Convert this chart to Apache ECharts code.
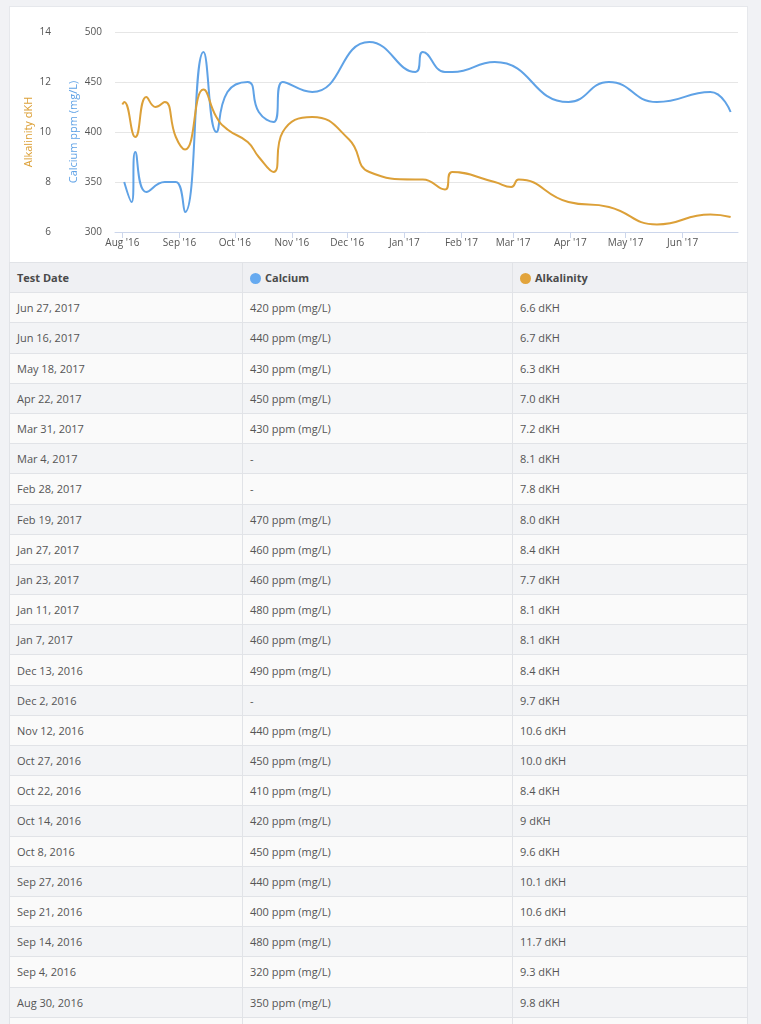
<!DOCTYPE html>
<html>
<head>
<meta charset="utf-8">
<script src="https://cdn.jsdelivr.net/npm/echarts@6/dist/echarts.min.js"></script>
<style>
    body { margin: 0; background: #f1f2f5; font-family: "Open Sans", sans-serif; }
    #card { position: absolute; left: 9px; top: 6px; width: 737px; height: 255px; background: #fff; border: 1px solid #e6e8ec; border-bottom: none; }
    #chart { position: absolute; left: 0; top: 0; width: 761px; height: 262px; }
    #log { position: absolute; left: 9px; top: 262px; width: 739px; border-collapse: collapse; font-size: 11px; color: #555; }
    #log th, #log td { border: 1px solid #e1e3e7; text-align: left; padding: 0 7px; height: 29.2px; }
    #log th { background: #eff0f3; color: #4a4a4a; font-weight: 700; }
    #log tbody tr:nth-child(odd) td { background: #fafafa; }
    #log tbody tr:nth-child(even) td { background: #f3f4f6; }
    .dot { display: inline-block; width: 11px; height: 11px; border-radius: 50%; vertical-align: -2px; margin-right: 4px; }
</style>
</head>
<body>
<div id="card"></div>
<div id="chart"></div>
<table id="log">
    <thead>
        <tr>
            <th style="width:218px">Test Date</th>
            <th style="width:255px"><span class="dot" style="background:#66aaf0"></span>Calcium</th>
            <th><span class="dot" style="background:#e2a43c"></span>Alkalinity</th>
        </tr>
    </thead>
    <tbody></tbody>
</table>
<script>
var testDates = ['2016-08-01', '2016-08-02', '2016-08-06', '2016-08-08', '2016-08-14', '2016-08-19',
    '2016-08-24', '2016-08-30', '2016-09-04', '2016-09-14', '2016-09-21', '2016-09-27',
    '2016-10-08', '2016-10-14', '2016-10-22', '2016-10-27', '2016-11-12', '2016-12-02',
    '2016-12-13', '2017-01-07', '2017-01-11', '2017-01-23', '2017-01-27', '2017-02-19',
    '2017-02-28', '2017-03-04', '2017-03-31', '2017-04-22', '2017-05-18', '2017-06-16',
    '2017-06-27'];
// ppm (mg/L), null = not tested
var calcium = [null, 350, 330, 380, 340, null,
    350, 350, 320, 480, 400, 440,
    450, 420, 410, 450, 440, null,
    490, 460, 480, 460, 460, 470,
    null, null, 430, 450, 430, 440,
    420];
// dKH, kept as entered
var alkalinity = ['11.1', '11.2', null, '9.8', '11.4', '11.0',
    '11.2', '9.8', '9.3', '11.7', '10.6', '10.1',
    '9.6', '9', '8.4', '10.0', '10.6', '9.7',
    '8.4', '8.1', '8.1', '7.7', '8.4', '8.0',
    '7.8', '8.1', '7.2', '7.0', '6.3', '6.7',
    '6.6'];
var monthTicks = ['2016-08-01', '2016-09-01', '2016-10-01', '2016-11-01', '2016-12-01', '2017-01-01',
    '2017-02-01', '2017-03-01', '2017-04-01', '2017-05-01', '2017-06-01'];
var monthNames = ['Jan', 'Feb', 'Mar', 'Apr', 'May', 'Jun', 'Jul', 'Aug', 'Sep', 'Oct', 'Nov', 'Dec'];

var blue = '#5fa2e6';
var orange = '#dca038';

function toTime(s) {
    return new Date(s + 'T00:00:00Z').getTime();
}

var calciumData = [];
var alkalinityData = [];
testDates.forEach(function (d, i) {
    if (calcium[i] != null) calciumData.push([toTime(d), calcium[i]]);
    if (alkalinity[i] != null) alkalinityData.push([toTime(d), Number(alkalinity[i])]);
});

var myChart = echarts.init(document.getElementById('chart'));

option = {
    animation: false,
    textStyle: { fontFamily: 'Open Sans' },
    grid: {
        left: 115,
        right: 23,
        top: 32,
        bottom: 30
    },
    xAxis: {
        // plain value axis in ms, month starts given as custom ticks
        type: 'value',
        min: toTime('2016-07-28'),
        max: toTime('2017-07-01'),
        axisLine: { lineStyle: { color: '#ccd6eb' } },
        axisTick: {
            show: true,
            length: 6,
            customValues: monthTicks.map(toTime),
            lineStyle: { color: '#ccd6eb' }
        },
        axisLabel: {
            customValues: monthTicks.map(toTime),
            color: '#555',
            fontSize: 10,
            margin: 6,
            formatter: function (v) {
                var d = new Date(v);
                return monthNames[d.getUTCMonth()] + " '" + String(d.getUTCFullYear()).slice(2);
            }
        },
        splitLine: { show: false }
    },
    yAxis: [{
        type: 'value',
        position: 'left',
        min: 300,
        max: 500,
        interval: 50,
        name: 'Calcium ppm (mg/L)',
        nameLocation: 'middle',
        nameGap: 36,
        nameMoveOverlap: false,
        nameTextStyle: { color: blue, fontSize: 11 },
        axisLine: { show: false },
        axisTick: { show: false },
        axisLabel: { color: '#555', fontSize: 10, margin: 13 },
        splitLine: { lineStyle: { color: '#e6e6e6' } }
    }, {
        type: 'value',
        position: 'left',
        offset: 52,
        min: 6,
        max: 14,
        interval: 2,
        name: 'Alkalinity dKH',
        nameLocation: 'middle',
        nameGap: 29,
        nameMoveOverlap: false,
        nameTextStyle: { color: orange, fontSize: 11 },
        axisLine: { show: false },
        axisTick: { show: false },
        axisLabel: { color: '#555', fontSize: 10, margin: 12 },
        splitLine: { show: false }
    }],
    series: [{
        name: 'Calcium',
        type: 'line',
        yAxisIndex: 0,
        smooth: 0.5,
        symbol: 'none',
        lineStyle: { color: blue, width: 2 },
        itemStyle: { color: blue },
        data: calciumData
    }, {
        name: 'Alkalinity',
        type: 'line',
        yAxisIndex: 1,
        smooth: 0.5,
        symbol: 'none',
        lineStyle: { color: orange, width: 2 },
        itemStyle: { color: orange },
        data: alkalinityData
    }]
};

myChart.setOption(option);

// table, newest first
var body = document.querySelector('#log tbody');
for (var i = testDates.length - 1; i >= 0; i--) {
    var p = testDates[i].split('-');
    var label = monthNames[Number(p[1]) - 1] + ' ' + Number(p[2]) + ', ' + p[0];
    var tr = document.createElement('tr');
    tr.innerHTML = '<td>' + label + '</td>' +
        '<td>' + (calcium[i] != null ? calcium[i] + ' ppm (mg/L)' : '-') + '</td>' +
        '<td>' + (alkalinity[i] != null ? alkalinity[i] + ' dKH' : '-') + '</td>';
    body.appendChild(tr);
}
</script>
</body>
</html>
